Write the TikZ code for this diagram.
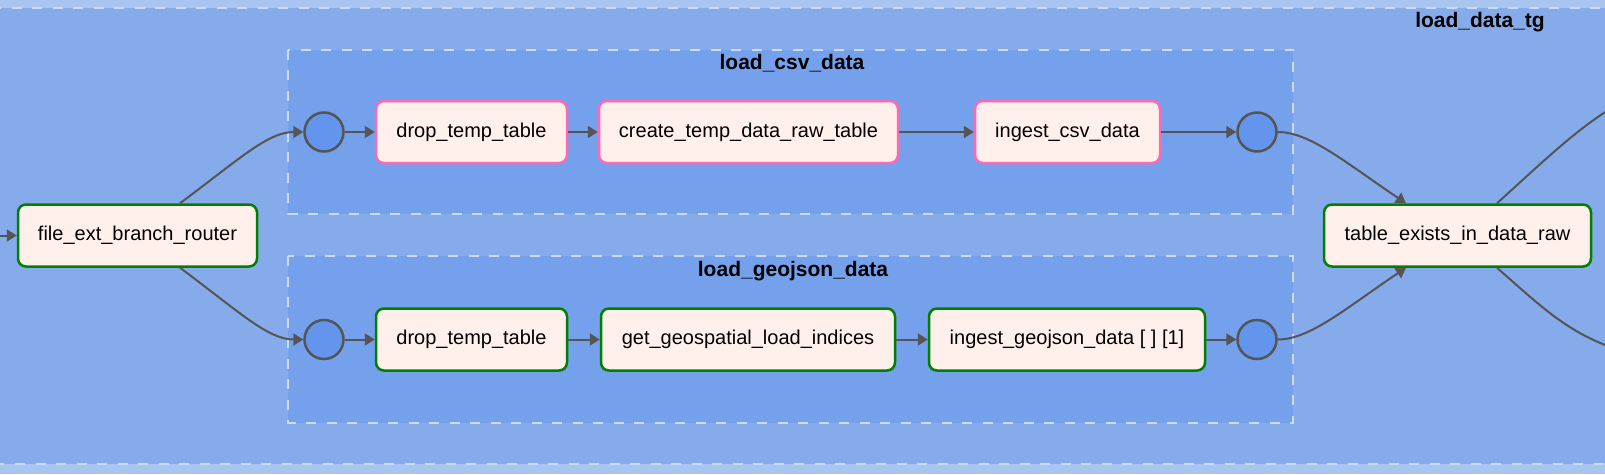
\documentclass[tikz,border=0pt]{standalone}
\usepackage{fontspec}
\setmainfont{Liberation Sans}
\usetikzlibrary{arrows.meta,calc}
\definecolor{bgstrip}{HTML}{AAC4F0}
\definecolor{outerfill}{HTML}{86ABEB}
\definecolor{innerfill}{HTML}{74A0EC}
\definecolor{circfill}{HTML}{6495ED}
\definecolor{nodefill}{HTML}{FFF0EB}
\definecolor{edgegray}{HTML}{555555}
\definecolor{okgreen}{HTML}{008000}
\definecolor{hotpink}{HTML}{FF69B4}
\definecolor{dashcol}{HTML}{CCDBF6}
\tikzset{
  task/.style={draw, rounded corners=8pt, fill=nodefill, line width=2.5pt,
    minimum height=62pt, inner sep=0pt, font=\fontsize{20}{24}\selectfont, text=black},
  greentask/.style={task, draw=okgreen},
  pinktask/.style={task, draw=hotpink},
  joint/.style={circle, draw=edgegray, fill=circfill, line width=2.5pt,
    minimum size=39pt, inner sep=0pt},
  edge/.style={draw=edgegray, line width=2pt, -{Triangle[length=10pt,width=12pt]}},
  plainedge/.style={draw=edgegray, line width=2pt},
  groupbox/.style={draw=dashcol, line width=2pt, dash pattern=on 10pt off 10.5pt},
  grouptitle/.style={font=\bfseries\fontsize{21}{25}\selectfont, text=black},
}
\begin{document}
\begin{tikzpicture}[x=1pt,y=-1pt]
\useasboundingbox (0,0) rectangle (1605,474);
\clip (0,0) rectangle (1605,474);
\fill[bgstrip] (0,0) rectangle (1605,474);
% groups
\path[groupbox, fill=outerfill] (-21,7.5) rectangle (1625,463.5);
\path[groupbox, fill=innerfill] (288,49.5) rectangle (1293,214);
\path[groupbox, fill=innerfill] (288,256) rectangle (1293,422.5);
\node[grouptitle] (tgtitle) at (1480,22) {load\_data\_tg};
\node[grouptitle] (csvtitle) at (792,63) {load\_csv\_data};
\node[grouptitle] (geotitle) at (793,271) {load\_geojson\_data};
% nodes
\node[greentask, minimum width=239pt] (fer) at (137.5,235.5) {file\_ext\_branch\_router};
\node[joint] (c1) at (324,132) {};
\node[pinktask, minimum width=191pt] (d1) at (471.5,132) {drop\_temp\_table};
\node[pinktask, minimum width=299pt] (ct) at (748.5,132) {create\_temp\_data\_raw\_table};
\node[pinktask, minimum width=185pt] (ic) at (1067.5,132) {ingest\_csv\_data};
\node[joint] (c2) at (1257,132) {};
\node[joint] (c3) at (324,339.5) {};
\node[greentask, minimum width=191pt] (d2) at (471.5,339.5) {drop\_temp\_table};
\node[greentask, minimum width=294pt] (gg) at (748,339.5) {get\_geospatial\_load\_indices};
\node[greentask, minimum width=276pt] (ig) at (1067,339.5) {ingest\_geojson\_data [ ] [1]};
\node[joint] (c4) at (1257,339.5) {};
\node[greentask, minimum width=267pt] (te) at (1457.5,235.5) {table\_exists\_in\_data\_raw};
\coordinate (inL) at (-5,235.5);
\coordinate (outA) at (1625,100);
\coordinate (outB) at (1625,352);
% edges
\draw[edge] (inL) -- (fer.west);
\draw[edge] ([xshift=42.5pt]fer.north) .. controls (240,158.6) and (268,132) .. (c1.west);
\draw[edge] ([xshift=42.5pt]fer.south) .. controls (240,312.4) and (268,339.5) .. (c3.west);
\draw[edge] (c1) -- (d1);
\draw[edge] (d1) -- (ct);
\draw[edge] (ct) -- (ic);
\draw[edge] (ic) -- (c2);
\draw[edge] (c3) -- (d2);
\draw[edge] (d2) -- (gg);
\draw[edge] (gg) -- (ig);
\draw[edge] (ig) -- (c4);
\draw[edge] (c2.east) .. controls (1310,132) and (1346,163) .. ([xshift=-51.5pt]te.north);
\draw[edge] (c4.east) .. controls (1310,339.5) and (1346,308) .. ([xshift=-51.5pt]te.south);
\draw[plainedge] ([xshift=39.5pt]te.north) .. controls (1545,160) and (1580,125) .. (outA);
\draw[plainedge] ([xshift=39.5pt]te.south) .. controls (1545,310) and (1570,335) .. (outB);
\end{tikzpicture}
\end{document}
